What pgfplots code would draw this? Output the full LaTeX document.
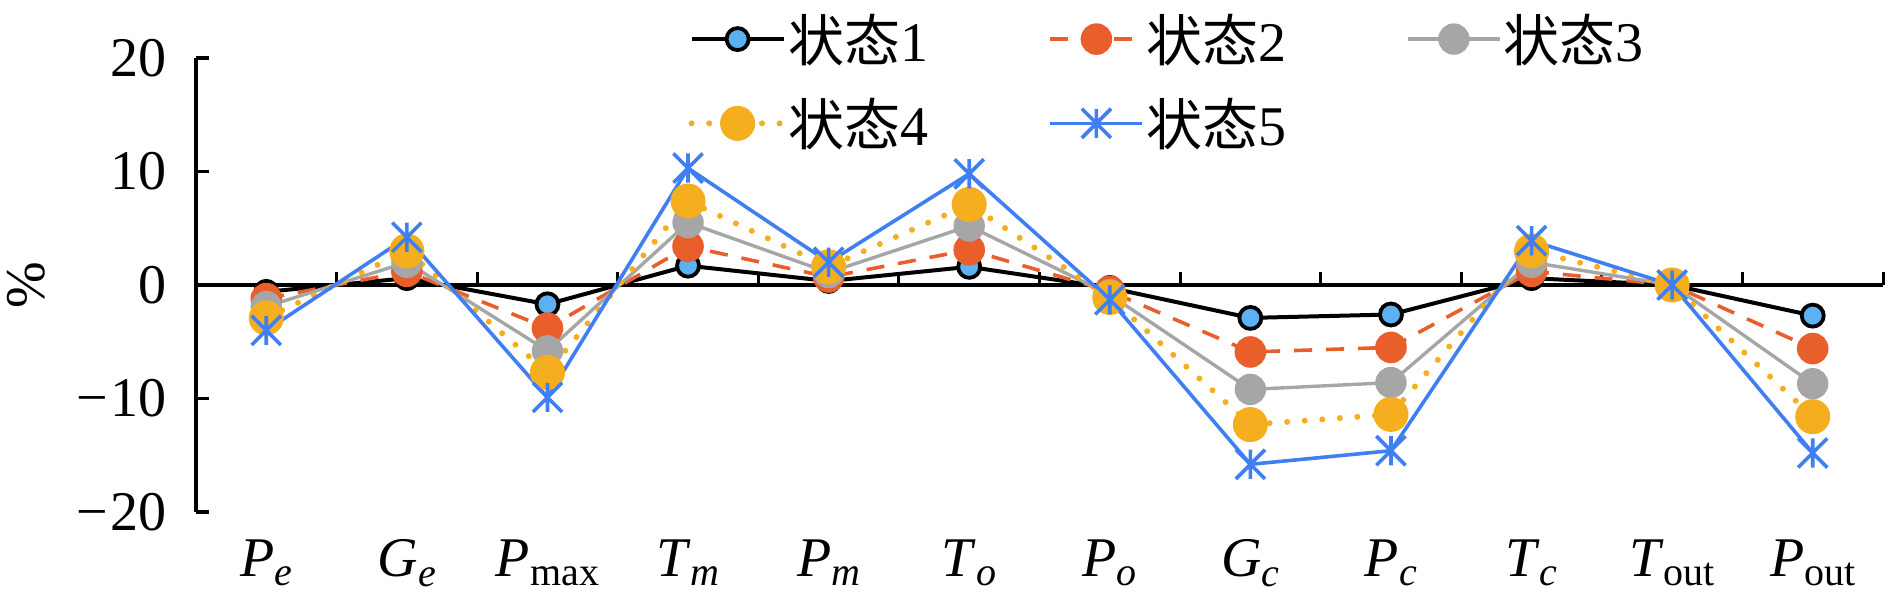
\documentclass[border=0pt]{standalone}
\usepackage{fontspec}
\setmainfont{Liberation Serif}
\newfontfamily\cjk{Noto Sans CJK SC}
\usepackage{pgfplots}
\pgfplotsset{compat=1.18}
\usepackage{pgfplotstable}
\definecolor{cA}{HTML}{5BB1F1}
\definecolor{cB}{HTML}{E95F2B}
\definecolor{cC}{HTML}{A6A6A6}
\definecolor{cD}{HTML}{F5AE1E}
\definecolor{cE}{HTML}{3F7FF2}
\pgfdeclareplotmark{xstar}{%
  \pgfpathmoveto{\pgfpoint{0pt}{\pgfplotmarksize}}%
  \pgfpathlineto{\pgfpoint{0pt}{-\pgfplotmarksize}}%
  \pgfpathmoveto{\pgfpoint{-\pgfplotmarksize}{-\pgfplotmarksize}}%
  \pgfpathlineto{\pgfpoint{\pgfplotmarksize}{\pgfplotmarksize}}%
  \pgfpathmoveto{\pgfpoint{-\pgfplotmarksize}{\pgfplotmarksize}}%
  \pgfpathlineto{\pgfpoint{\pgfplotmarksize}{-\pgfplotmarksize}}%
  \pgfusepathqstroke}
\DeclareRobustCommand{\sub}[1]{\raisebox{-4.8pt}{\fontsize{20}{20}\selectfont #1}}
\DeclareRobustCommand{\lab}[2]{\textit{#1}\sub{#2}}
\DeclareRobustCommand{\mn}{\char"2212\kern1.5pt\relax}
\pgfplotstableread{
x s1 s2 s3 s4 s5
0 -0.6 -1.2 -1.9 -2.9 -4.0
1 0.6 1.2 2.0 3.0 4.2
2 -1.7 -3.8 -5.8 -7.7 -9.9
3 1.7 3.4 5.5 7.4 10.3
4 0.35 0.7 1.1 1.6 2.0
5 1.6 3.1 5.2 7.1 9.8
6 -0.25 -0.55 -0.85 -1.1 -1.3
7 -2.9 -5.9 -9.2 -12.3 -15.8
8 -2.6 -5.5 -8.6 -11.4 -14.6
9 0.6 1.2 2.0 3.0 3.9
10 0 0 0 0 0
11 -2.7 -5.6 -8.7 -11.6 -14.8
}\data
\begin{document}
\begin{tikzpicture}
\begin{axis}[
  scale only axis, width=843.5pt, height=227pt,
  xmin=-0.5, xmax=11.5, ymin=-20, ymax=20,
  axis lines*=left,
  x axis line style={draw=none},
  y axis line style={line width=1.6pt},
  ytick={-20,-10,0,10,20},
  yticklabels={\mn20,\mn10,0,10,20},
  ytick style={line width=1.6pt, black},
  major tick length=6.5pt, tick align=inside,
  xtick={0,...,11},
  xticklabels={{\lab{P}{\textit{e}}},{\lab{G}{\textit{e}}},{\lab{P}{max}},{\lab{T}{\textit{m}}},{\lab{P}{\textit{m}}},{\lab{T}{\textit{o}}},{\lab{P}{\textit{o}}},{\lab{G}{\textit{c}}},{\lab{P}{\textit{c}}},{\lab{T}{\textit{c}}},{\lab{T}{out}},{\lab{P}{out}}},
  xtick style={draw=none},
  yticklabel style={anchor=east, inner sep=0pt, xshift=-14.5pt},
  xticklabel style={anchor=north, inner sep=0pt, yshift=-13.5pt},
  ticklabel style={font=\fontsize{28}{34}\selectfont},
  ylabel={\%},
  ylabel style={at={([xshift=-85pt]rel axis cs:0,0.5)}, anchor=center, font=\fontsize{28}{34}\selectfont},
  clip=false,
  legend columns=3,
  legend cell align=left,
  legend style={draw=none, fill=none, inner sep=0pt, outer sep=0pt,
    at={(rel axis cs:0.292,1.097)}, anchor=north west,
    font=\fontsize{28}{34}\selectfont,
    row sep=17pt,
    nodes={inner sep=0pt},
    /tikz/every odd column/.append style={column sep=1pt},
    /tikz/every even column/.append style={column sep=60pt}},
  legend image code/.code={\draw[mark repeat=2,mark phase=2,#1] plot coordinates {(0pt,0pt) (23pt,0pt) (46pt,0pt)};},
]
\coordinate (BL) at (rel axis cs:0,0);
\coordinate (TR) at (rel axis cs:1,1);
\addplot[black, line width=2pt, forget plot] coordinates {(-0.5,0) (11.5,0)};
\pgfplotsinvokeforeach{0.5,1.5,2.5,3.5,4.5,5.5,6.5,7.5,8.5,9.5,10.5,11.5}{\draw[black, line width=1.5pt] (axis cs:#1,0) -- ++(0pt,6.5pt);}
\addplot[black, line width=2pt, mark=*, mark size=5.5pt, mark options={fill=cA, draw=black, line width=1.9pt, solid}] table[x=x,y=s1]{\data};
\addlegendentry{{\cjk 状态}1}
\addplot[cB, line width=1.8pt, dash pattern=on 9pt off 7pt, mark=*, mark size=7pt, mark options={fill=cB, draw=none, solid}] table[x=x,y=s2]{\data};
\addlegendentry{{\cjk 状态}2}
\addplot[cC, line width=1.7pt, mark=*, mark size=7pt, mark options={fill=cC, draw=none, solid}] table[x=x,y=s3]{\data};
\addlegendentry{{\cjk 状态}3}
\addplot[cD, line width=3pt, line cap=round, dash pattern=on 0pt off 8.8pt, mark=*, mark size=7.25pt, mark options={fill=cD, draw=none, solid}] table[x=x,y=s4]{\data};
\addlegendentry{{\cjk 状态}4}
\addplot[cE, line width=1.8pt, mark=xstar, mark size=7.3pt, mark options={draw=cE, line width=1.8pt, solid}] table[x=x,y=s5]{\data};
\addlegendentry{{\cjk 状态}5}
\end{axis}
\pgfresetboundingbox
\path[use as bounding box] ([xshift=-98pt,yshift=-51pt]BL) rectangle ([xshift=3.5pt,yshift=29pt]TR);
\end{tikzpicture}
\end{document}
